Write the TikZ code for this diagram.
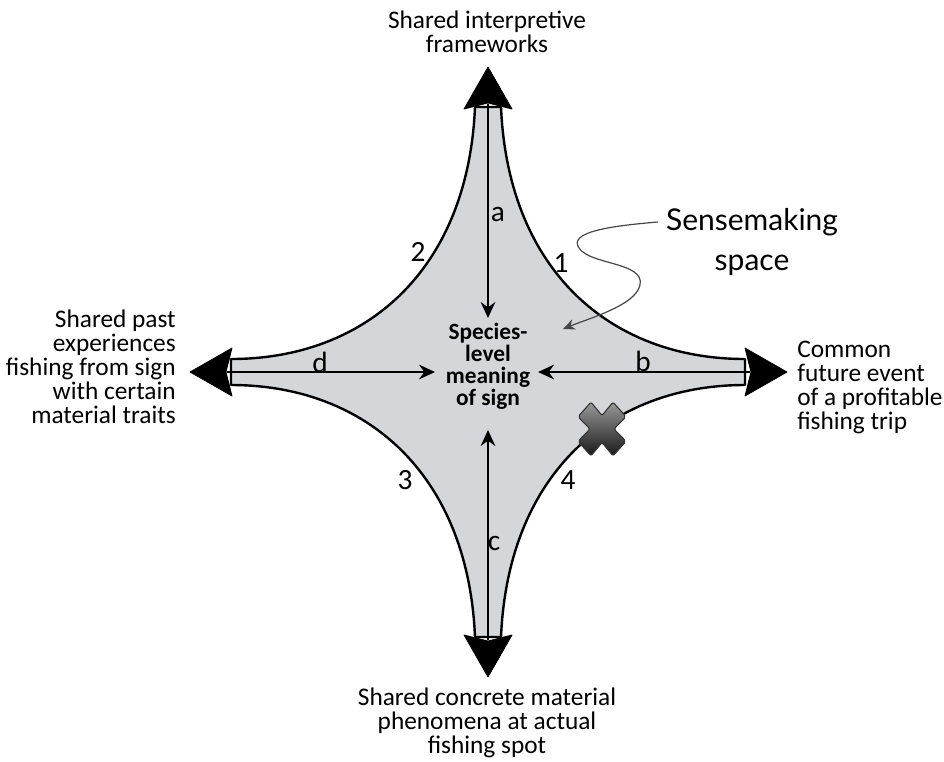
\documentclass[tikz,border=0pt]{standalone}
\usepackage{fontspec}
\setmainfont{Carlito}
\newfontfamily\sensefont{Lato}
\usepackage{tikz}
\usetikzlibrary{arrows.meta, positioning}
\definecolor{spacegray}{RGB}{212,214,217}
\definecolor{wiggle}{RGB}{70,70,70}

\begin{document}
\begin{tikzpicture}[x=0.75pt, y=-0.75pt,
    sidetext/.style={font=\fontsize{19}{18}\selectfont, inner sep=0pt},
    armletter/.style={font=\fontsize{22}{22}\selectfont, inner sep=0pt},
    armnum/.style={font=\fontsize{22}{22}\selectfont, inner sep=0pt},
    headfill/.style={fill=black, draw=black, line width=0.6pt, line join=round},
    pull/.style={line width=1.1pt, -{Stealth[length=12pt, width=11pt, inset=4pt]}}]
\useasboundingbox (0,0) rectangle (944,761);

% Sensemaking space (the star)
\filldraw[fill=spacegray, draw=black, line width=1.8pt, line join=round]
    (501,107) .. controls (508,270) and (610,359) .. (745,359)
    -- (745,385) .. controls (610,385) and (508,474) .. (501,637)
    -- (475,637) .. controls (468,474) and (366,385) .. (231,385)
    -- (231,359) .. controls (366,359) and (468,270) .. (475,107)
    -- cycle;

% Arrow heads at the four tips
\coordinate (tipT) at (488,67);
\coordinate (tipR) at (787,372);
\coordinate (tipB) at (488,677);
\coordinate (tipL) at (190,372);
\filldraw[headfill] (tipT) -- (512,109) -- (488,103) -- (464,109) -- cycle;
\filldraw[headfill] (tipR) -- (745,348) -- (751,372) -- (745,396) -- cycle;
\filldraw[headfill] (tipB) -- (464,635) -- (488,641) -- (512,635) -- cycle;
\filldraw[headfill] (tipL) -- (232,348) -- (226,372) -- (232,396) -- cycle;

% Inner arrows a-d
\coordinate (baseT) at (488,104);
\coordinate (baseR) at (750,372);
\coordinate (baseB) at (488,640);
\coordinate (baseL) at (227,372);
\coordinate (endT) at (488,318);
\coordinate (endR) at (538,372);
\coordinate (endB) at (488,430);
\coordinate (endL) at (435,372);
\draw[pull] (baseT) -- (endT);
\draw[pull] (baseR) -- (endR);
\draw[pull] (baseB) -- (endB);
\draw[pull] (baseL) -- (endL);

% Centre
\node[font=\bfseries\fontsize{17.5}{16.5}\selectfont, align=center, inner sep=0pt]
    (meaning) at (488,366) {Species-\\level\\meaning\\of sign};

% Arm letters and curve numbers
\node[armletter] (la) at (498,214) {a};
\node[armletter] (lb) at (643,361) {b};
\node[armletter] (lc) at (494,543) {c};
\node[armletter] (ld) at (320,362) {d};
\node[armnum] (n1) at (561,263) {1};
\node[armnum] (n2) at (418,252) {2};
\node[armnum] (n3) at (405,480) {3};
\node[armnum] (n4) at (568,480) {4};

% Outer labels
\node[sidetext, align=center] (top) at (487,32) {Shared interpretive\\frameworks};
\node[sidetext, align=left, anchor=west] (right) at (797,387)
    {Common\\future event\\of a profitable\\fishing trip};
\node[sidetext, align=right, anchor=east] (left) at (176,367)
    {Shared past\\experiences\\fishing from sign\\with certain\\material traits};
\node[sidetext, align=center] (bottom) at (487,723)
    {Shared concrete material\\phenomena at actual\\fishing spot};

% Sensemaking space callout
\node[font=\sensefont\fontsize{22.5}{30}\selectfont, align=center, inner sep=0pt]
    (sense) at (752,242) {Sensemaking\\space};
\coordinate (spot) at (563,329);
\draw[wiggle, line width=0.9pt, -{Stealth[length=9pt, width=8pt, inset=3pt]}]
    ([xshift=-6pt]sense.west |- 0,222) .. controls (610,226) and (568,232) .. (579,248)
    .. controls (590,265) and (645,262) .. (640,285)
    .. controls (636,305) and (590,318) .. (spot);

% The crossed-out path
\begin{scope}[shift={(602,429)}, yscale=1.12]
\shade[top color=black!40, bottom color=black!90, draw=black!80, line width=0.8pt,
       rounded corners=1.5pt]
    (-24,-11) -- (-11,-24) -- (0,-12) -- (11,-24) -- (24,-11) -- (12,0)
    -- (24,11) -- (11,24) -- (0,12) -- (-11,24) -- (-24,11) -- (-12,0) -- cycle;
\end{scope}

\end{tikzpicture}
\end{document}
